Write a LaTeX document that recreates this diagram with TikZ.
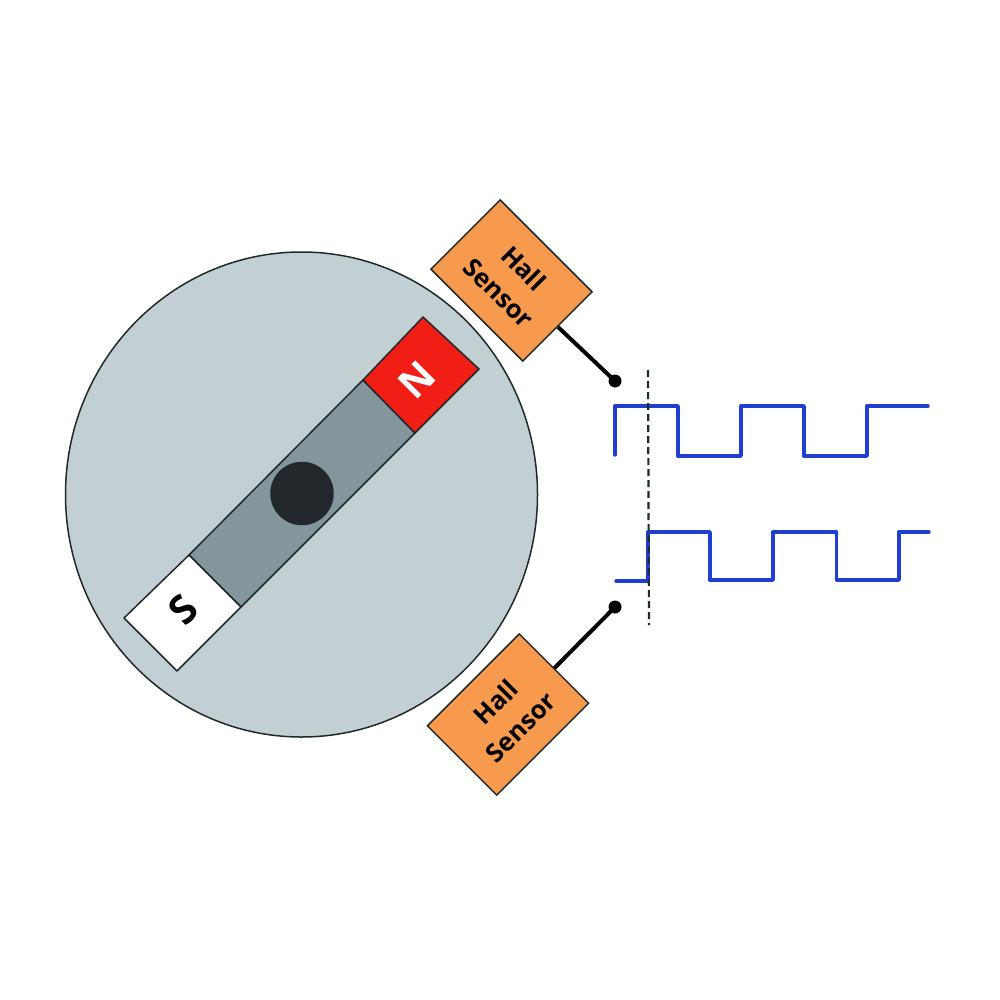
\documentclass[tikz,border=0pt]{standalone}
\usepackage{fontspec}
\setmainfont{Open Sans}
\definecolor{disk}{HTML}{C3D0D3}
\definecolor{barc}{HTML}{84959C}
\definecolor{hubc}{HTML}{23282D}
\definecolor{redc}{HTML}{F01E14}
\definecolor{orangec}{HTML}{F79A4E}
\definecolor{bluec}{HTML}{1E3FD2}
\definecolor{edgec}{HTML}{1F2A2E}
\tikzset{
  partline/.style={draw=edgec,line width=1.5pt,line join=round},
  sensorbox/.style={draw=edgec,line width=1.5pt,fill=orangec,minimum width=130pt,minimum height=98pt,inner sep=0pt,align=center,font=\bfseries\fontsize{25.5}{35}\selectfont,text=black},
  wire/.style={draw=black,line width=4pt},
  dotnode/.style={circle,fill=black,minimum size=13pt,inner sep=0pt},
  wave/.style={draw=bluec,line width=3.4pt,line join=round,line cap=round},
  pole/.style={font=\bfseries\fontsize{40}{40}\selectfont,rotate=45,inner sep=0pt},
}
\begin{document}
\begin{tikzpicture}[x=1pt,y=-1pt]
\useasboundingbox[fill=white] (0,0) rectangle (1000,1000);
% disk
\draw[partline,fill=disk] (301.5,494.5) ellipse [x radius=236,y radius=242.5];
% magnet
\draw[partline,fill=barc] (363,380) -- (415,433) -- (241,607) -- (189,555) -- cycle;
\draw[partline,fill=redc] (423,317) -- (479,369) -- (415,433) -- (363,380) -- cycle;
\draw[partline,fill=white] (189,555) -- (241,607) -- (177,671) -- (124,618) -- cycle;
\node[pole,text=white] (north) at (417,380) {N};
\node[pole,text=black] (south) at (183.5,610) {S};
% hub
\node[circle,draw=edgec,line width=1.5pt,fill=hubc,minimum size=62pt,inner sep=0pt] (hub) at (302,493.5) {};
% sensors
\node[sensorbox,rotate=-45] (s1) at (511.5,280.5) {Hall\\Sensor};
\node[sensorbox,rotate=45] (s2) at (508,714.5) {Hall\\Sensor};
\node[dotnode] (d1) at (615,381) {};
\node[dotnode] (d2) at (615,607) {};
\draw[wire] (s1.east) -- (d1.center);
\draw[wire] (s2.east) -- (d2.center);
% waveforms
\draw[wave] (615,455) |- (678,406) |- (741,456) |- (804,406) |- (867,456) |- (928,406);
\draw[wave] (616,581) -| (648,532) -| (710,580) -| (773,532) -| (836.5,580) -| (899,532) -- (929,532);
% time marker
\coordinate (m1) at (648,370);
\coordinate (m2) at (649,625);
\draw[draw=edgec,line width=2.2pt,dash pattern=on 7pt off 4pt] (m1) -- (m2);
\end{tikzpicture}
\end{document}
